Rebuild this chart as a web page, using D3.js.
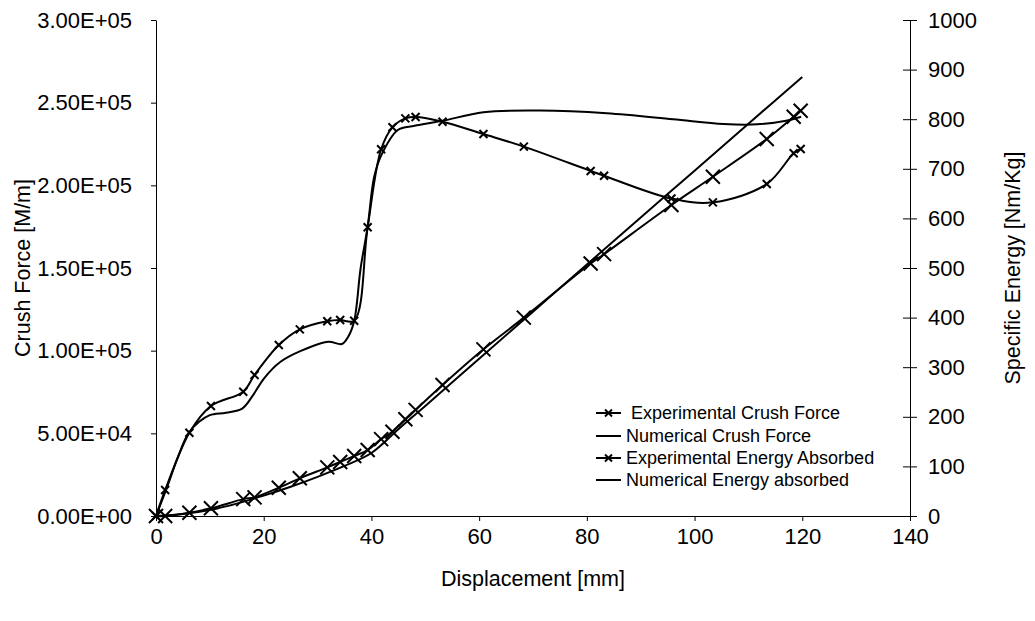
<!DOCTYPE html>
<html>
<head>
<meta charset="utf-8">
<script src="https://cdn.jsdelivr.net/npm/d3@7"></script>
<style>
  html, body { margin: 0; padding: 0; background: #fff; }
  svg { display: block; font-family: "Liberation Sans", Arial, sans-serif; }
</style>
</head>
<body>
<svg id="chart" width="1035" height="621"></svg>
<script>
// ---- Data ----
const expDisp   = [0, 1.7, 6.2, 10.2, 16.2, 18.3, 22.8, 26.7, 31.8, 34.2, 36.8, 39.3, 41.8, 43.9, 46.3, 48.2, 53.2, 60.8, 68.3, 80.7, 83.2, 95.7, 103.4, 113.4, 118.4, 119.7];
const expForce  = [0, 15700, 50400, 66500, 75200, 85300, 103400, 112900, 117800, 118500, 118100, 174600, 221800, 235100, 240500, 241300, 238500, 231000, 223400, 208700, 205800, 192000, 189700, 200800, 219400, 222000];
const expEnergy = [0, 0, 6.7, 15.5, 34, 37.6, 57, 76, 98, 109, 121, 133, 155, 170, 195, 214, 264, 336, 400, 509, 528, 627, 684, 760, 805, 817];

const numForceDisp = [0, 2, 4, 6, 8, 10, 13, 16, 18, 20, 23, 27, 32, 34.5, 35.7, 36.8, 38, 39.3, 40.5, 41.8, 44.9, 48, 53.2, 60.8, 71.3, 83.7, 96, 105.4, 111.6, 117, 119.8];
const numForce     = [0, 17000, 35000, 50000, 57000, 61000, 62500, 65000, 73000, 83000, 93000, 100000, 105400, 104000, 108500, 118000, 150000, 175000, 205000, 218000, 233500, 236000, 239000, 244200, 245200, 243600, 240000, 237100, 236900, 239100, 241500];

const numEnergyDisp = [0, 5, 10, 15, 20, 25, 30, 35, 40, 45, 50, 60, 70, 80, 90, 100, 110, 120];
const numEnergy     = [0, 4, 12, 25, 41, 59, 79, 101, 127, 175, 222, 317, 412, 507, 602, 696, 791, 885];

const xTicks      = [0, 20, 40, 60, 80, 100, 120, 140];
const forceTicks  = [0, 50000, 100000, 150000, 200000, 250000, 300000];
const energyTicks = [0, 100, 200, 300, 400, 500, 600, 700, 800, 900, 1000];

const legendLabels = [" Experimental Crush Force", "Numerical Crush Force", "Experimental Energy Absorbed", "Numerical Energy absorbed"];

// ---- Layout ----
const L = 156, R = 910, T = 20, B = 516;
const svg = d3.select("#chart");

const x  = d3.scaleLinear().domain([0, 140]).range([L, R]);
const yF = d3.scaleLinear().domain([0, 300000]).range([B, T]);
const yE = d3.scaleLinear().domain([0, 1000]).range([B, T]);

const tickFont = 22;
const titleFont = 21.5;

// X axis
const gx = svg.append("g").attr("transform", `translate(0,${B})`)
  .call(d3.axisBottom(x).tickValues(xTicks).tickSize(5).tickSizeOuter(0).tickPadding(7).tickFormat(d3.format("d")));
// Left axis
const gyl = svg.append("g").attr("transform", `translate(${L},0)`)
  .call(d3.axisLeft(yF).tickValues(forceTicks).tickSize(5).tickSizeOuter(0).tickPadding(19)
    .tickFormat(d => { const s = d.toExponential(2).toUpperCase(); return s.replace(/E([+-])(\d)$/, "E$10$2"); }));
// Right axis
const gyr = svg.append("g").attr("transform", `translate(${R},0)`)
  .call(d3.axisRight(yE).tickValues(energyTicks).tickSize(7).tickSizeOuter(0).tickPadding(11).tickFormat(d3.format("d")));
gyr.selectAll(".tick line").attr("x1", -7);

[gx, gyl, gyr].forEach(g => {
  g.selectAll("path.domain").attr("stroke", "#000").attr("stroke-width", 1);
  g.selectAll(".tick line").attr("stroke", "#000");
  g.selectAll("text").attr("font-size", tickFont).attr("fill", "#000").attr("font-family", "Liberation Sans, Arial, sans-serif");
});

// Axis titles
svg.append("text").attr("x", 533).attr("y", 586).attr("text-anchor", "middle")
  .attr("font-size", titleFont).text("Displacement [mm]");
svg.append("text").attr("transform", `translate(30,268) rotate(-90)`).attr("text-anchor", "middle")
  .attr("font-size", titleFont).text("Crush Force [M/m]");
svg.append("text").attr("transform", `translate(1020,268) rotate(-90)`).attr("text-anchor", "middle")
  .attr("font-size", titleFont).text("Specific Energy [Nm/Kg]");

// Lines
const curve = d3.curveCatmullRom.alpha(0.5);
function drawLine(xs, ys, yScale) {
  const pts = xs.map((d, i) => [x(d), yScale(ys[i])]);
  svg.append("path").attr("d", d3.line().curve(curve)(pts))
    .attr("fill", "none").attr("stroke", "#000").attr("stroke-width", 2);
  return pts;
}
function cross(px, py, s, w) {
  svg.append("path").attr("d", `M${px - s},${py - s}L${px + s},${py + s}M${px - s},${py + s}L${px + s},${py - s}`)
    .attr("stroke", "#000").attr("stroke-width", w).attr("fill", "none");
}

drawLine(numForceDisp, numForce, yF);
drawLine(numEnergyDisp, numEnergy, yE);
const pF = drawLine(expDisp, expForce, yF);
const pE = drawLine(expDisp, expEnergy, yE);
pF.forEach(p => cross(p[0], p[1], 4, 2));
pE.forEach(p => cross(p[0], p[1], 7, 2));

// Legend
const legX0 = 596, legX1 = 621, legTx = 626;
const legY = [413, 436, 458, 480];
legendLabels.forEach((lab, i) => {
  const y = legY[i];
  svg.append("line").attr("x1", legX0).attr("x2", legX1).attr("y1", y).attr("y2", y)
    .attr("stroke", "#000").attr("stroke-width", 2);
  if (i === 0 || i === 2) cross((legX0 + legX1) / 2, y, 3.5, 2);
  svg.append("text").attr("x", legTx).attr("y", y).attr("dy", "0.35em")
    .attr("font-size", 18).style("white-space", "pre").text(lab);
});
</script>
</body>
</html>
